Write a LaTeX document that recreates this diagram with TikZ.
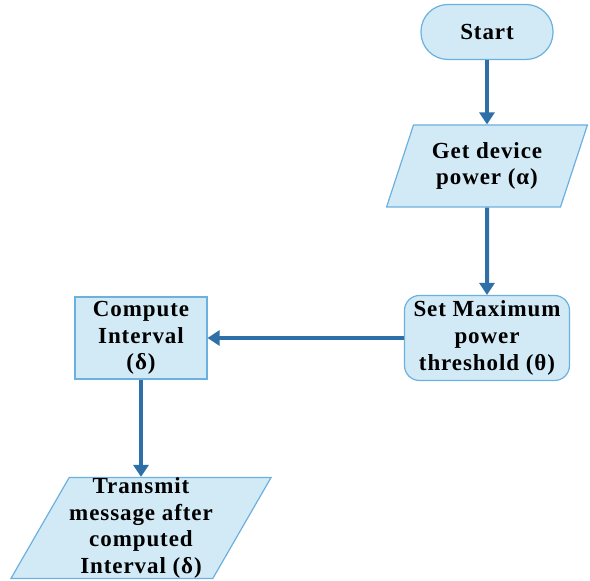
\documentclass[tikz,border=0pt]{standalone}
\usepackage{fontspec}
\setmainfont[LetterSpace=4]{Liberation Serif}
\usetikzlibrary{shapes.geometric,arrows.meta}

\definecolor{boxfill}{RGB}{210,234,246}
\definecolor{boxline}{RGB}{108,176,224}
\definecolor{flowline}{RGB}{46,111,167}

\begin{document}
\begin{tikzpicture}[x=1pt,y=1pt,font=\fontsize{23}{26.7}\selectfont\bfseries]
	\useasboundingbox (0,0) rectangle (590,581);
	\tikzstyle{Block}=[draw=boxline,fill=boxfill,line width=1.2pt,align=center,inner sep=0pt]
	\tikzstyle{Terminal}=[Block,rounded corners=27pt,minimum width=132pt,minimum height=55pt]
	\tikzstyle{Process}=[Block,minimum width=132pt,minimum height=82pt]
	\tikzstyle{IOBlock}=[Block,trapezium,trapezium stretches=true]
	\tikzstyle{Flow}=[draw=flowline,line width=4pt,-{Triangle[width=15pt,length=12pt]}]
	\node[Terminal] (start) at (487,549) {Start};
	\node[IOBlock,trapezium left angle=67,trapezium right angle=113,
		minimum width=201pt,minimum height=82pt] (getpower) at (487,415) {Get device\\power (α)};
	\node[Process,rounded corners=15pt,minimum width=165pt,minimum height=85pt] (setmax) at (487,243)
		{Set Maximum\\power\\threshold (θ)};
	\node[Process] (compute) at (141,243) {Compute\\Interval\\(δ)};
	\node[IOBlock,trapezium left angle=60,trapezium right angle=120,
		minimum width=253pt,minimum height=101pt] (transmit) at (141,53)
		{Transmit\\message after\\computed\\Interval (δ)};
	\draw[Flow] (start) -- (getpower);
	\draw[Flow] (getpower) -- (setmax);
	\draw[Flow] (setmax) -- (compute);
	\draw[Flow] (compute) -- (transmit);
\end{tikzpicture}
\end{document}
